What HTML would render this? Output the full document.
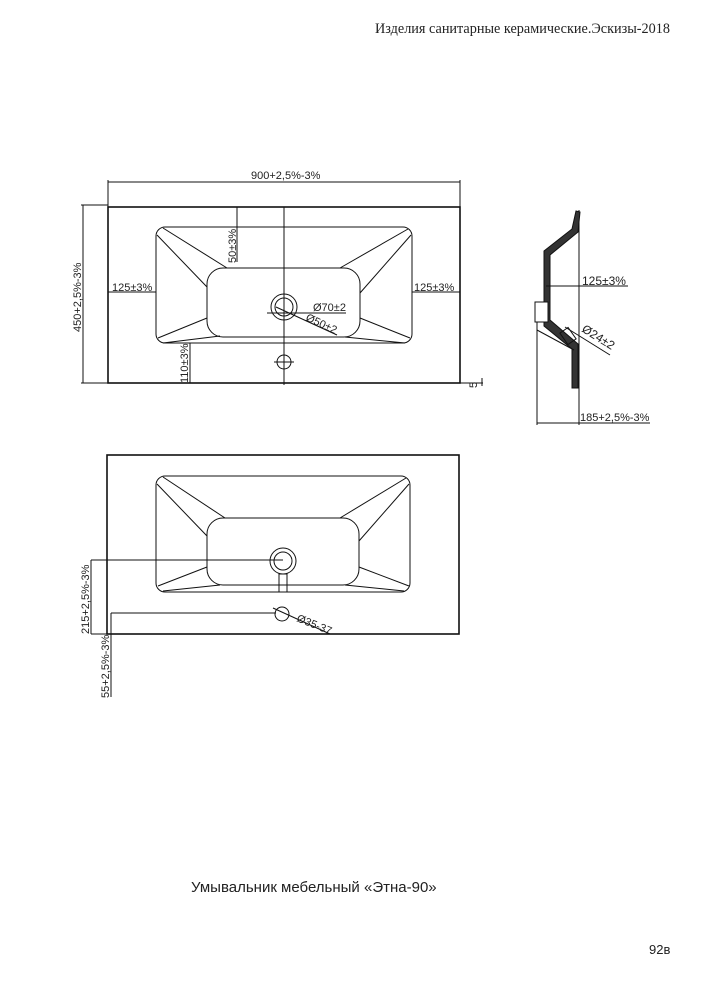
<!DOCTYPE html>
<html><head><meta charset="utf-8"><style>
html,body{margin:0;padding:0;background:#fff;}
svg{display:block}
text{font-family:"Liberation Sans","DejaVu Sans",sans-serif;fill:#222}
</style></head><body>
<svg width="707" height="1000" viewBox="0 0 707 1000" xmlns="http://www.w3.org/2000/svg">
<text x="375" y="33" style="font-family:'Liberation Serif',serif;font-size:14.5px" textLength="295" lengthAdjust="spacingAndGlyphs">Изделия санитарные керамические.Эскизы-2018</text>

<g stroke="#111" fill="none" stroke-width="1">
<rect x="108" y="207" width="352" height="176" stroke-width="1.6"/>
<line x1="108" y1="182" x2="460" y2="182"/>
<line x1="108" y1="180" x2="108" y2="207"/>
<line x1="460" y1="180" x2="460" y2="207"/>
<line x1="83" y1="205" x2="83" y2="383"/>
<line x1="81" y1="205" x2="108" y2="205"/>
<line x1="81" y1="383" x2="108" y2="383"/>
<rect x="156" y="227" width="256" height="116" rx="9"/>
<rect x="207" y="268" width="153" height="69" rx="16"/>
<line x1="163" y1="228" x2="227" y2="268"/>
<line x1="157" y1="235" x2="207" y2="287"/>
<line x1="408" y1="229" x2="340" y2="268"/>
<line x1="411" y1="235" x2="360" y2="293"/>
<line x1="158" y1="338" x2="207" y2="318"/>
<line x1="163" y1="343" x2="220" y2="336"/>
<line x1="410" y1="338" x2="360" y2="318"/>
<line x1="405" y1="343" x2="345" y2="337"/>
<line x1="284" y1="207" x2="284" y2="385"/>
<circle cx="284" cy="307" r="13"/>
<circle cx="284" cy="307" r="9"/>
<line x1="267" y1="313" x2="346" y2="313"/>
<line x1="276" y1="307" x2="337" y2="335"/>
<circle cx="284" cy="362" r="7"/>
<line x1="274" y1="362" x2="294" y2="362"/>
<line x1="237" y1="207" x2="237" y2="262"/>
<line x1="108" y1="292" x2="156" y2="292"/>
<line x1="412" y1="292" x2="460" y2="292"/>
<line x1="190" y1="343" x2="190" y2="383"/>
<line x1="460" y1="383" x2="483" y2="383"/>
<line x1="482" y1="378" x2="482" y2="386"/>

<line x1="579" y1="210" x2="579" y2="425"/>
<path d="M576,211 L580,212 L578,232 L550,255 L550,320 L578,344 L578,388 L572,388 L572,349 L544,326 L544,251 L572,229 Z" fill="#333" stroke-width="1"/>
<rect x="535" y="302" width="13" height="20" fill="#fff"/>
<line x1="537" y1="330" x2="574" y2="350"/>
<line x1="537" y1="322" x2="537" y2="425"/>
<line x1="546" y1="286" x2="628" y2="286"/>
<line x1="537" y1="423" x2="650" y2="423"/>
<line x1="565" y1="327" x2="610" y2="355"/>
<rect x="563" y="329" width="10" height="14" transform="rotate(-35 568 336)"/>

<rect x="107" y="455" width="352" height="179" stroke-width="1.6"/>
<rect x="156" y="476" width="254" height="116" rx="9"/>
<rect x="207" y="518" width="152" height="67" rx="16"/>
<line x1="163" y1="477" x2="225" y2="518"/>
<line x1="157" y1="484" x2="207" y2="536"/>
<line x1="406" y1="478" x2="340" y2="518"/>
<line x1="409" y1="484" x2="359" y2="541"/>
<line x1="158" y1="586" x2="207" y2="567"/>
<line x1="163" y1="591" x2="220" y2="585"/>
<line x1="409" y1="586" x2="359" y2="567"/>
<line x1="404" y1="591" x2="345" y2="585"/>
<circle cx="283" cy="561" r="13"/>
<circle cx="283" cy="561" r="9"/>
<rect x="279" y="574" width="8" height="18"/>
<line x1="91" y1="560" x2="283" y2="560"/>
<line x1="91" y1="560" x2="91" y2="634"/>
<line x1="91" y1="634" x2="107" y2="634"/>
<circle cx="282" cy="614" r="7"/>
<line x1="111" y1="613" x2="276" y2="613"/>
<line x1="111" y1="613" x2="111" y2="697"/>
<line x1="273" y1="608" x2="330" y2="634"/>
</g>

<g style="font-size:11px">
<text x="251" y="179">900+2,5%-3%</text>
<text transform="translate(81,332) rotate(-90)">450+2,5%-3%</text>
<text transform="translate(236,263) rotate(-90)">50±3%</text>
<text x="112" y="291">125±3%</text>
<text x="414" y="291">125±3%</text>
<text transform="translate(188,383) rotate(-90)">110±3%</text>
<text x="313" y="311">Ø70±2</text>
<text transform="translate(305,320) rotate(25)">Ø50±2</text>
<text transform="translate(477,388) rotate(-90)">5</text>
<text x="582" y="285" style="font-size:12px">125±3%</text>
<text transform="translate(581,331) rotate(32)" style="font-size:12px">Ø24±2</text>
<text x="580" y="421">185+2,5%-3%</text>
<text transform="translate(89,634) rotate(-90)">215+2,5%-3%</text>
<text transform="translate(109,698) rotate(-90)">55+2,5%-3%</text>
<text transform="translate(296,621) rotate(22)">Ø35-37</text>
</g>

<text x="191" y="892" style="font-size:15px">Умывальник мебельный «Этна-90»</text>
<text x="649" y="954" style="font-size:13px">92в</text>
</svg>
</body></html>
